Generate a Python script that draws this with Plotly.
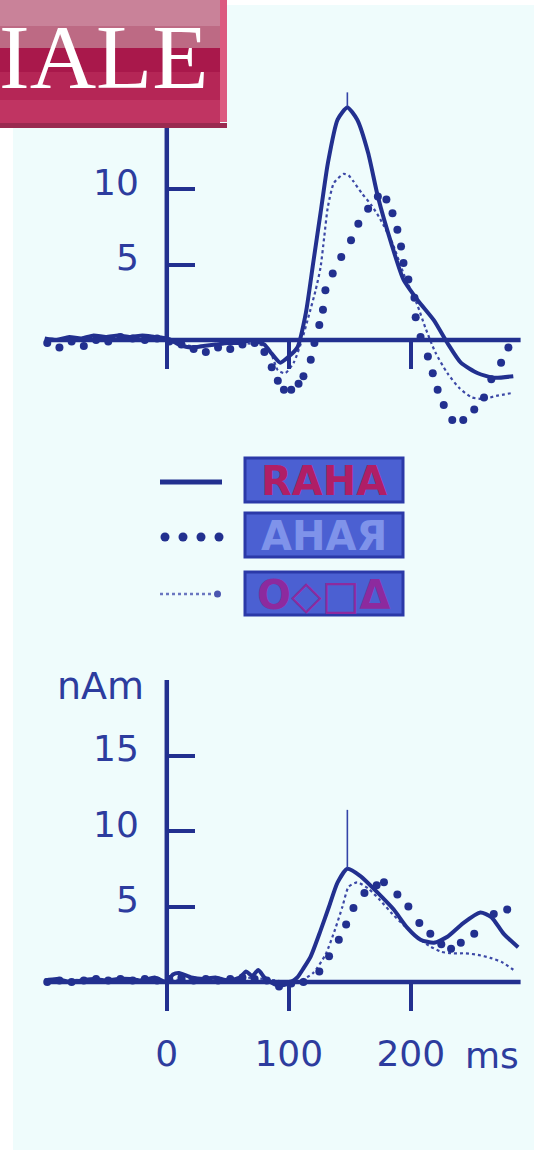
import plotly.graph_objects as go

W, H = 534, 1150

# ---------------- data ----------------
# time axis in ms, values in nAm
TICK_Y_TOP = [5, 10]
TICK_Y_BOT = [5, 10, 15]
TICK_X = [0, 100, 200]
TICK_X_TEXT = ["0", "100", "200"]
AXIS_X_SPAN = [-100, 290]
AXIS_Y_SPAN = [0, 20]

# upper panel
top_solid_t = [-100, -90, -80, -70, -60, -50, -40, -30, -20, -10, 0, 10, 20, 30, 40, 50, 60, 70, 80, 86, 93,
               100, 107, 114, 120, 126, 132, 140, 148, 156, 165, 173, 184, 194, 206, 219, 230, 241, 255, 268, 284]
top_solid_v = [0.1, 0.0, 0.2, 0.1, 0.3, 0.2, 0.3, 0.2, 0.3, 0.2, 0.1, -0.3, -0.5, -0.4, -0.3, -0.2, -0.2, 0.0, -0.3,
               -0.9, -1.5, -1.1, -0.5, 1.8, 5.1, 8.4, 11.7, 14.6, 15.4, 14.6, 12.4, 9.5, 6.4, 4.0, 2.6, 1.3, -0.2,
               -1.5, -2.2, -2.5, -2.4]

top_dots_t = [-98, -88, -78, -68, -58, -48, -38, -28, -18, -8, 2, 12, 22, 32, 42, 52, 62, 72, 80, 86, 91, 96, 102,
              108, 112, 118, 121, 125, 128, 130, 136, 143, 151, 157, 165, 173, 180, 185, 189, 192, 194, 198, 203,
              204, 208, 214, 218, 222, 227, 234, 243, 252, 260, 266, 274, 280]
top_dots_v = [-0.2, -0.5, -0.1, -0.4, 0.0, -0.1, 0.2, 0.1, 0.0, 0.1, -0.1, -0.3, -0.6, -0.8, -0.5, -0.6, -0.3, -0.2,
              -0.8, -1.8, -2.7, -3.3, -3.3, -2.9, -2.4, -1.3, -0.2, 1.0, 2.0, 3.3, 4.4, 5.5, 6.6, 7.7, 8.7, 9.5, 9.3,
              8.4, 7.3, 6.2, 5.1, 4.0, 2.8, 1.5, 0.2, -1.1, -2.2, -3.3, -4.3, -5.3, -5.3, -4.6, -3.8, -2.6, -1.5, -0.5]

top_fine_t = [-100, -80, -60, -40, -20, 0, 20, 40, 60, 80, 86, 91, 97, 104, 110, 116, 122, 126, 129, 132, 137, 145,
              149, 153, 160, 168, 175, 185, 195, 205, 212, 220, 230, 240, 250, 260, 270, 284]
top_fine_v = [0.0, 0.1, 0.1, 0.2, 0.1, 0.0, -0.4, -0.3, -0.2, -0.4, -1.0, -2.0, -2.2, -1.5, -0.2, 1.5, 3.3, 4.8, 6.8,
              8.8, 10.4, 11.0, 10.9, 10.5, 9.7, 8.9, 8.0, 6.4, 4.2, 2.4, 0.8, -0.8, -2.2, -3.2, -3.8, -3.9, -3.7, -3.5]

top_peak_t = [148]
top_peak_v = [15.4]
top_peak_err = [1.0]

# lower panel
bot_solid_t = [-100, -90, -80, -70, -60, -50, -40, -30, -20, -10, 0, 5, 10, 20, 30, 40, 50, 60, 65, 70, 75, 80, 85,
               90, 96, 102, 107, 112, 118, 126, 133, 140, 148, 159, 173, 186, 197, 208, 219, 230, 243, 257, 266,
               276, 288]
bot_solid_v = [0.1, 0.2, 0.0, 0.1, 0.2, 0.1, 0.2, 0.2, 0.1, 0.3, 0.0, 0.5, 0.6, 0.3, 0.2, 0.3, 0.1, 0.3, 0.7, 0.4,
               0.8, 0.3, 0.0, -0.2, -0.2, 0.0, 0.3, 0.9, 1.7, 3.4, 5.0, 6.6, 7.5, 7.0, 5.9, 4.8, 3.6, 2.8, 2.6, 3.0,
               3.9, 4.6, 4.3, 3.2, 2.3]

bot_dots_t = [-98, -88, -78, -68, -58, -48, -38, -28, -18, -8, 2, 12, 22, 32, 42, 52, 62, 72, 82, 92, 102, 112,
              125, 133, 141, 147, 153, 162, 172, 178, 189, 198, 207, 216, 225, 233, 241, 252, 268, 279]
bot_dots_v = [0.0, 0.1, 0.0, 0.1, 0.2, 0.1, 0.2, 0.1, 0.2, 0.1, 0.2, 0.3, 0.1, 0.2, 0.1, 0.2, 0.3, 0.2, 0.1, -0.3,
              -0.1, 0.0, 0.7, 1.7, 2.8, 3.8, 4.9, 5.9, 6.4, 6.6, 5.8, 5.0, 3.9, 3.2, 2.5, 2.2, 2.6, 3.2, 4.5, 4.8]

bot_fine_t = [-100, -80, -60, -40, -20, 0, 20, 40, 60, 80, 100, 110, 120, 130, 138, 144, 149, 156, 165, 175, 185,
              195, 205, 215, 225, 235, 245, 255, 265, 275, 286]
bot_fine_v = [0.1, 0.1, 0.2, 0.1, 0.2, 0.1, 0.2, 0.1, 0.3, 0.2, 0.0, 0.1, 0.6, 1.8, 3.5, 5.0, 6.3, 6.6, 6.2, 5.4,
              4.5, 3.7, 3.0, 2.4, 2.0, 1.9, 1.9, 1.8, 1.6, 1.3, 0.7]

bot_peak_t = [148]
bot_peak_v = [7.5]
bot_peak_err = [3.9]

LEGEND_LABELS = ["RAHA", "AHAЯ", "O◇□Δ"]

# ---------------- styling / geometry ----------------
INK = "#22308f"
TXT = "#2d3c9e"
BG = "#effcfc"
PXMS = 1.22          # pixels per ms
X0PX = 166.8         # pixel column of t = 0
PXU = 15.1           # pixels per nAm

def px(x):
    return x / W

def py(y):
    return 1 - y / H

xr = [-X0PX / PXMS, (W - X0PX) / PXMS]
top_rng = [(340 - 450) / PXU, (340 - 20) / PXU]
top_dom = [py(450), py(20)]
bot_rng = [(982 - 1040) / PXU, (982 - 660) / PXU]
bot_dom = [py(1040), py(660)]

fig = go.Figure()

def add_panel(xa, ya, st, sv, dt, dv, ft, fv, pt, pv, pe):
    fig.add_trace(go.Scatter(x=ft, y=fv, mode="lines", xaxis=xa, yaxis=ya,
                             line=dict(color="#3c48a6", width=2.2, dash="dot", shape="spline", smoothing=0.6),
                             showlegend=False, hoverinfo="skip"))
    fig.add_trace(go.Scatter(x=st, y=sv, mode="lines", xaxis=xa, yaxis=ya,
                             line=dict(color=INK, width=4, shape="spline", smoothing=0.6),
                             showlegend=False, hoverinfo="skip"))
    fig.add_trace(go.Scatter(x=dt, y=dv, mode="markers", xaxis=xa, yaxis=ya,
                             marker=dict(color=INK, size=8),
                             showlegend=False, hoverinfo="skip"))
    fig.add_trace(go.Scatter(x=pt, y=pv, mode="markers", xaxis=xa, yaxis=ya,
                             marker=dict(color=INK, size=2),
                             error_y=dict(type="data", symmetric=False, array=pe, arrayminus=[0],
                                          color="#3444a8", thickness=1.6, width=0),
                             showlegend=False, hoverinfo="skip"))

add_panel("x", "y", top_solid_t, top_solid_v, top_dots_t, top_dots_v, top_fine_t, top_fine_v,
          top_peak_t, top_peak_v, top_peak_err)
add_panel("x2", "y2", bot_solid_t, bot_solid_v, bot_dots_t, bot_dots_v, bot_fine_t, bot_fine_v,
          bot_peak_t, bot_peak_v, bot_peak_err)

shapes = []
shapes.append(dict(type="rect", xref="paper", yref="paper", x0=px(13), x1=1, y0=0, y1=py(5),
                   fillcolor=BG, line=dict(width=0), layer="below"))
for xa, ya in (("x", "y"), ("x2", "y2")):
    shapes.append(dict(type="line", xref=xa, yref=ya, x0=AXIS_X_SPAN[0], x1=AXIS_X_SPAN[1], y0=0, y1=0,
                       line=dict(color=INK, width=4.5)))
    shapes.append(dict(type="line", xref=xa, yref=ya, x0=0, x1=0, y0=AXIS_Y_SPAN[0], y1=AXIS_Y_SPAN[1],
                       line=dict(color=INK, width=4.5)))

# legend samples
shapes.append(dict(type="line", xref="paper", yref="paper", x0=px(160), x1=px(222), y0=py(482), y1=py(482),
                   line=dict(color=INK, width=5)))
for cx in (165, 183, 201, 219):
    shapes.append(dict(type="circle", xref="paper", yref="paper", x0=px(cx - 4.5), x1=px(cx + 4.5),
                       y0=py(537 + 4.5), y1=py(537 - 4.5), fillcolor=INK, line=dict(width=0)))
shapes.append(dict(type="line", xref="paper", yref="paper", x0=px(160), x1=px(214), y0=py(594), y1=py(594),
                   line=dict(color="#6a76c0", width=2.5, dash="dot")))
shapes.append(dict(type="circle", xref="paper", yref="paper", x0=px(214), x1=px(221), y0=py(597.5), y1=py(590.5),
                   fillcolor="#4a56b0", line=dict(width=0)))
box_rows = [(458, 502), (513, 557), (572, 615)]
for (y0, y1) in box_rows:
    shapes.append(dict(type="rect", xref="paper", yref="paper", x0=px(245), x1=px(403), y0=py(y1), y1=py(y0),
                       fillcolor="#4b60d2", line=dict(color="#2b39a8", width=3)))

# title banner
bands = [(0, 26, "#c98299"), (26, 48, "#bd6a84"), (48, 72, "#a9184b"), (72, 100, "#b52656"), (100, 125, "#c03462")]
for (y0, y1, c) in bands:
    shapes.append(dict(type="rect", xref="paper", yref="paper", x0=0, x1=px(220), y0=py(y1), y1=py(y0),
                       fillcolor=c, line=dict(width=0), layer="above"))
shapes.append(dict(type="rect", xref="paper", yref="paper", x0=px(220), x1=px(227), y0=py(122), y1=1,
                   fillcolor="#dc5a80", line=dict(width=0), layer="above"))
shapes.append(dict(type="rect", xref="paper", yref="paper", x0=0, x1=px(227), y0=py(128), y1=py(123),
                   fillcolor="#9a2a50", line=dict(width=0), layer="above"))

annotations = [
    dict(text="IALE", xref="paper", yref="paper", x=px(-3), y=py(57), xanchor="left", yanchor="middle",
         showarrow=False, font=dict(family="Liberation Serif", size=92, color="white")),
    dict(text="nAm", xref="paper", yref="paper", x=px(100), y=py(686), xanchor="center", yanchor="middle",
         showarrow=False, font=dict(family="DejaVu Sans", size=38, color=TXT)),
    dict(text="ms", xref="paper", yref="paper", x=px(492), y=py(1055), xanchor="center", yanchor="middle",
         showarrow=False, font=dict(family="DejaVu Sans", size=36, color=TXT)),
]
leg_colors = ["#b01e66", "#7f93ea", "#8d2a9e"]
for (y0, y1), lab, c in zip(box_rows, LEGEND_LABELS, leg_colors):
    annotations.append(dict(text="<b>" + lab + "</b>", xref="paper", yref="paper", x=px(324), y=py((y0 + y1) / 2 + 1),
                            xanchor="center", yanchor="middle", showarrow=False,
                            font=dict(family="DejaVu Sans", size=40, color=c)))

common_x = dict(range=xr, domain=[0, 1], showgrid=False, zeroline=False, showline=False,
                tickvals=TICK_X, ticktext=TICK_X_TEXT, ticks="outside", ticklen=28, tickwidth=4,
                tickcolor=INK, anchor="free", tickfont=dict(family="DejaVu Sans", size=36, color=TXT))
common_y = dict(showgrid=False, zeroline=False, showline=False, ticks="inside",
                ticklen=27, tickwidth=4, tickcolor=INK, anchor="free", position=px(X0PX),
                tickfont=dict(family="DejaVu Sans", size=36, color=TXT), ticklabelstandoff=28,
                ticklabelshift=-7)

fig.update_layout(
    width=W, height=H, margin=dict(l=0, r=0, t=0, b=0),
    paper_bgcolor="white", plot_bgcolor="rgba(0,0,0,0)",
    xaxis=dict(common_x, position=py(340), showticklabels=False),
    yaxis=dict(common_y, range=top_rng, domain=top_dom, tickvals=TICK_Y_TOP),
    xaxis2=dict(common_x, position=py(982), showticklabels=True, ticklabelstandoff=12),
    yaxis2=dict(common_y, range=bot_rng, domain=bot_dom, tickvals=TICK_Y_BOT),
    shapes=shapes, annotations=annotations, showlegend=False,
)

fig.write_html("out.html", config={"displayModeBar": False},
               post_script="document.body.style.margin='0px';document.body.style.overflow='hidden';")
